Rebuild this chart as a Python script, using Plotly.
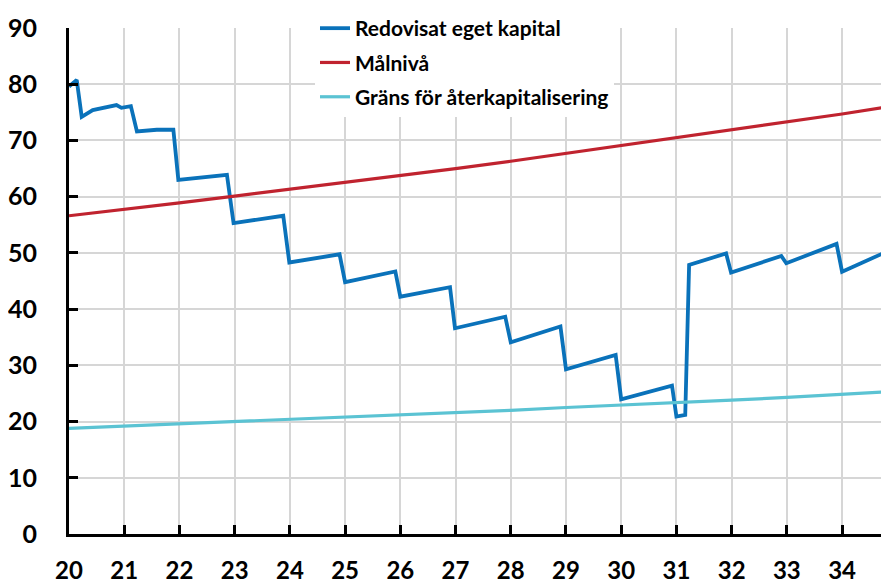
import plotly.graph_objects as go

# Redovisat eget kapital (vertices)
blue_x = [20.0, 20.14, 20.23, 20.43, 20.86, 20.95, 21.12, 21.23, 21.59, 21.89, 21.98, 22.25, 22.86,
          22.98, 23.88, 23.99, 24.90, 25.0, 25.91, 26.0, 26.9, 26.99, 27.9, 28.0, 28.9, 29.0, 29.9,
          30.0, 30.92, 31.0, 31.16, 31.23, 31.9, 31.99, 32.9, 32.99, 33.9, 34.0, 34.85]
blue_y = [79.6, 80.75, 74.2, 75.4, 76.3, 75.8, 76.1, 71.6, 71.9, 71.9, 63.0, 63.3, 63.9,
          55.3, 56.6, 48.3, 49.75, 44.8, 46.7, 42.2, 43.9, 36.6, 38.65, 34.1, 36.9, 29.3, 31.85,
          23.95, 26.4, 20.9, 21.2, 47.85, 49.9, 46.5, 49.45, 48.15, 51.6, 46.65, 50.4]

# Målnivå
year_x = [20, 21, 22, 23, 24, 25, 26, 27, 28, 29, 30, 31, 32, 33, 34, 34.85]
red_y = [56.6, 57.7, 58.9, 60.1, 61.3, 62.5, 63.8, 65.0, 66.3, 67.7, 69.0, 70.4, 71.8, 73.2, 74.7, 76.0]
# Gräns för återkapitalisering
cyan_y = [18.8, 19.2, 19.6, 20.0, 20.3, 20.8, 21.2, 21.6, 22.0, 22.5, 22.9, 23.4, 23.8, 24.3, 24.8, 25.3]

x_ticks = list(range(20, 35))
x_labels = [str(v) for v in x_ticks]
y_ticks = list(range(0, 91, 10))

FAM = "Lato, 'Open Sans', sans-serif"

fig = go.Figure()
fig.add_trace(go.Scatter(x=blue_x, y=blue_y, mode="lines", name="Redovisat eget kapital",
                         line=dict(color="#0A72BA", width=3.8), legendgroup="a"))
fig.add_trace(go.Scatter(x=year_x, y=red_y, mode="lines", name="Målnivå",
                         line=dict(color="#C0232F", width=3.2), legendgroup="b"))
fig.add_trace(go.Scatter(x=year_x, y=cyan_y, mode="lines", name="Gräns för återkapitalisering",
                         line=dict(color="#5BC3D3", width=3.2), legendgroup="c"))

fig.update_layout(
    width=881, height=576,
    margin=dict(l=61, r=0, t=20, b=50, autoexpand=False),
    paper_bgcolor="white", plot_bgcolor="white",
    font=dict(family=FAM, color="black", weight=700),
    showlegend=True,
    legend=dict(x=0.30, y=1.0395, xanchor="left", yanchor="top",
                bgcolor="white", borderwidth=0,
                font=dict(family=FAM, size=21, color="black", weight=700),
                tracegroupgap=4, itemwidth=30),
    xaxis=dict(range=[20, 34.85], tickvals=x_ticks, ticktext=x_labels, automargin=False,
               showgrid=True, gridcolor="#d6d6d6", gridwidth=1.5,
               showline=True, linecolor="black", linewidth=3,
               ticks="inside", ticklen=9, tickwidth=3, tickcolor="black",
               tickfont=dict(size=24, family=FAM, color="black", weight=700),
               ticklabelstandoff=13, zeroline=False),
    yaxis=dict(range=[0, 90], tickvals=y_ticks, automargin=False,
               showgrid=True, gridcolor="#d6d6d6", gridwidth=1.5,
               showline=True, linecolor="black", linewidth=3,
               ticks="inside", ticklen=9, tickwidth=3, tickcolor="black",
               tickfont=dict(size=25, family=FAM, color="black", weight=700),
               ticklabelstandoff=24, zeroline=False),
)

fig.write_html("out.html")
